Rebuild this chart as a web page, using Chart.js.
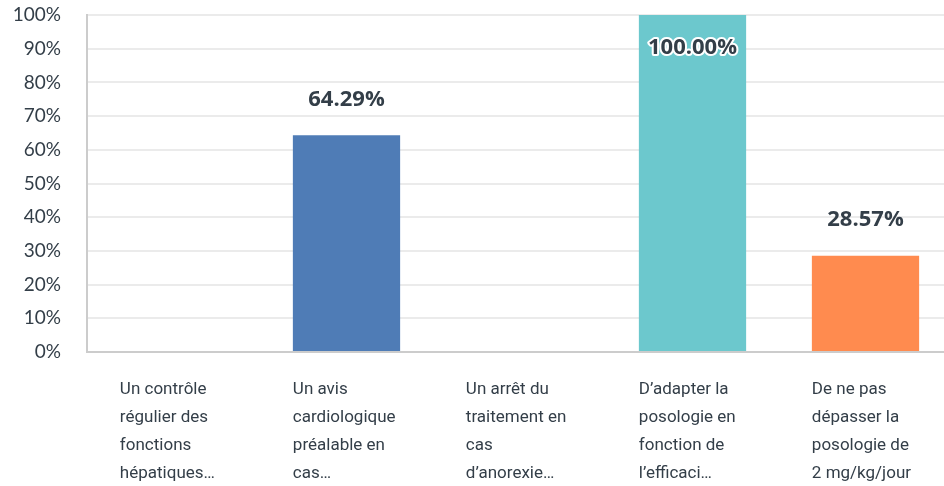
<!DOCTYPE html>
<html>
<head>
<meta charset="utf-8">
<script src="https://cdn.jsdelivr.net/npm/chart.js@4/dist/chart.umd.min.js"></script>
<style>
  html, body { margin: 0; padding: 0; background: #fff; overflow: hidden; }
  #wrap { width: 952px; height: 486px; }
</style>
</head>
<body>
<div id="wrap"><canvas id="chart" width="952" height="486"></canvas></div>
<script>
const categories = [
    ['Un contrôle', 'régulier des', 'fonctions', 'hépatiques…'],
    ['Un avis', 'cardiologique', 'préalable en', 'cas…'],
    ['Un arrêt du', 'traitement en', 'cas', 'd’anorexie…'],
    ['D’adapter la', 'posologie en', 'fonction de', 'l’efficaci…'],
    ['De ne pas', 'dépasser la', 'posologie de', '2 mg/kg/jour']
];
const values = [0, 64.29, 0, 100, 28.57];
const barColors = ['#4f7cb6', '#4f7cb6', '#6cc8cd', '#6cc8cd', '#ff8b4f'];
const yTicks = [0, 10, 20, 30, 40, 50, 60, 70, 80, 90, 100];

// draws value labels above bars and the left-aligned category labels
const labelPlugin = {
    id: 'labels',
    afterDatasetsDraw(chart) {
        const ctx = chart.ctx;
        const meta = chart.getDatasetMeta(0);
        const area = chart.chartArea;
        ctx.save();
        ctx.textAlign = 'center';
        ctx.textBaseline = 'middle';
        ctx.font = 'bold 22px "Open Sans"';
        meta.data.forEach((bar, i) => {
            if (!values[i]) return;
            const txt = values[i].toFixed(2) + '%';
            let y = bar.y - 36;
            if (y < area.top + 10) {
                y = bar.y + 33; // no room above, put it inside the bar
                ctx.lineWidth = 4;
                ctx.strokeStyle = '#fff';
                ctx.lineJoin = 'round';
                ctx.strokeText(txt, bar.x, y);
            }
            ctx.fillStyle = '#333e48';
            ctx.fillText(txt, bar.x, y);
        });

        ctx.textAlign = 'left';
        ctx.font = '17px Roboto';
        ctx.fillStyle = '#333e48';
        const xs = chart.scales.x;
        categories.forEach((lines, i) => {
            const left = xs.getPixelForValue(i) - meta.data[i].width / 2;
            lines.forEach((line, j) => {
                ctx.fillText(line, left, area.bottom + 38 + j * 28);
            });
        });
        ctx.restore();
    }
};

new Chart(document.getElementById('chart'), {
    type: 'bar',
    data: {
        labels: categories.map(c => c.join(' ')),
        datasets: [{
            data: values,
            backgroundColor: barColors,
            barPercentage: 0.62,
            categoryPercentage: 1
        }]
    },
    options: {
        responsive: false,
        animation: false,
        layout: { padding: 0 },
        plugins: { legend: { display: false }, tooltip: { enabled: false } },
        scales: {
            x: {
                ticks: { display: false },
                grid: { display: false },
                border: { color: '#cccccc', width: 2 },
                afterFit(scale) { scale.height = 134; }
            },
            y: {
                min: 0,
                max: 100,
                afterBuildTicks(scale) { scale.ticks = yTicks.map(v => ({ value: v })); },
                ticks: {
                    padding: 26,
                    color: '#333e48',
                    font: { family: 'Lato', size: 19 },
                    callback: v => v + '%'
                },
                grid: { color: '#ebebeb', lineWidth: 2, drawTicks: false },
                border: { color: '#cccccc', width: 2 },
                afterFit(scale) {
                    scale.width = 87;
                    scale.paddingTop = 15;
                    scale.paddingBottom = 0;
                }
            }
        }
    },
    plugins: [labelPlugin]
});
</script>
</body>
</html>
